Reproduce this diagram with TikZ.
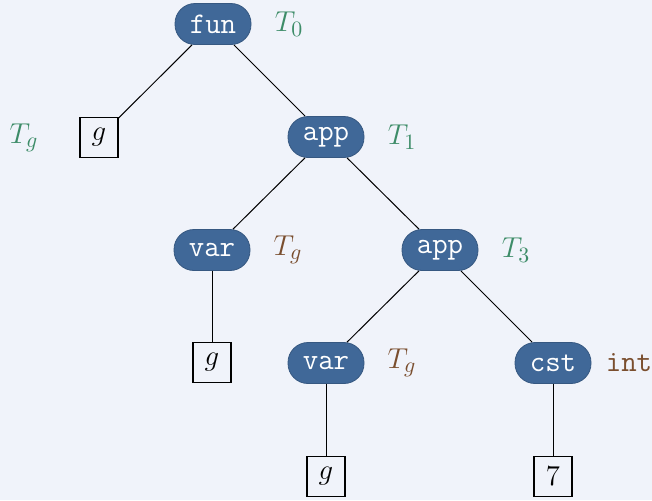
\documentclass[tikz,border=0pt]{standalone}
\begin{document}
\begin{tikzpicture}[x=0.5pt,y=-0.5pt,
  every node/.style={font=\fontsize{15}{18}\selectfont},
  pill/.style={fill=pillblue, draw=pillblue!85!black, line width=0.4pt, rounded corners=10pt,
    minimum width=38pt, minimum height=20.5pt, inner sep=0pt, text=white, font=\fontsize{15}{18}\selectfont\ttfamily},
  leaf/.style={draw=black, line width=0.6pt, minimum width=19pt, minimum height=20pt, inner sep=0pt},
  tgreen/.style={text=tgreen, inner sep=0pt},
  tbrown/.style={text=tbrown, inner sep=0pt},
  edge/.style={draw=black, line width=0.5pt}
]
\definecolor{bgcol}{RGB}{240,243,250}
\definecolor{pillblue}{RGB}{64,104,152}
\definecolor{tgreen}{RGB}{61,140,104}
\definecolor{tbrown}{RGB}{122,78,46}
\fill[bgcol] (0,0) rectangle (652,500);
\useasboundingbox (0,0) rectangle (652,500);

\node[pill] (fun) at (213,24) {fun};
\node[pill] (app1) at (326,137) {app};
\node[pill] (var1) at (212,250) {var};
\node[pill] (app2) at (440,250) {app};
\node[pill] (var2) at (326,363) {var};
\node[pill] (cst) at (553,363) {cst};

\node[leaf] (gl) at (99,137.5) {$g$};
\node[leaf] (g1) at (212,362.5) {$g$};
\node[leaf] (g2) at (326,476.5) {$g$};
\node[leaf] (seven) at (553,476.5) {$7$};

\node[tgreen] (l0) at ([xshift=38pt]fun.center) {$T_0$};
\node[tgreen] (lgl) at ([xshift=-37.5pt]gl.center) {$T_g$};
\node[tgreen] (l1) at ([xshift=38pt]app1.center) {$T_1$};
\node[tbrown] (lv1) at ([xshift=38pt]var1.center) {$T_g$};
\node[tgreen] (l3) at ([xshift=38pt]app2.center) {$T_3$};
\node[tbrown] (lv2) at ([xshift=38pt]var2.center) {$T_g$};
\node[tbrown,font=\fontsize{15}{18}\selectfont\ttfamily] (lc) at ([xshift=38pt]cst.center) {int};

\draw[edge] (fun) -- (gl);
\draw[edge] (fun) -- (app1);
\draw[edge] (app1) -- (var1);
\draw[edge] (app1) -- (app2);
\draw[edge] (var1) -- (g1);
\draw[edge] (app2) -- (var2);
\draw[edge] (app2) -- (cst);
\draw[edge] (var2) -- (g2);
\draw[edge] (cst) -- (seven);
\end{tikzpicture}
\end{document}
